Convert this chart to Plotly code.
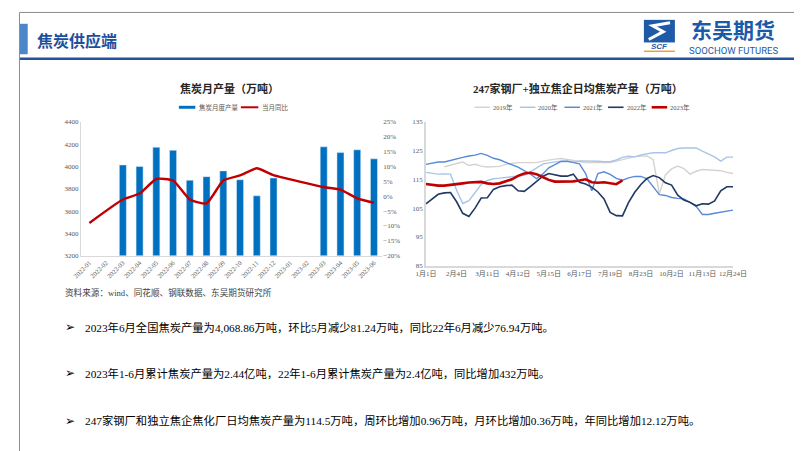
import plotly.graph_objects as go

W, H = 802, 451


def px(x):
    return x / W


def py(y):
    return 1 - y / H


# ---------------- data: left chart ----------------
months = ["2022-01", "2022-02", "2022-03", "2022-04", "2022-05", "2022-06",
          "2022-07", "2022-08", "2022-09", "2022-10", "2022-11", "2022-12",
          "2023-01", "2023-02", "2023-03", "2023-04", "2023-05", "2023-06"]
coke_output = [None, None, 4014, 4000, 4173, 4146, 3877, 3909, 3961, 3881,
               3737, 3897, None, None, 4177, 4125, 4150, 4069]
coke_yoy = [-9.0, None, -1.1, 0.9, 5.8, 5.3, -1.1, -2.4, 5.3, 7.0,
            9.4, 7.1, None, None, 3.1, 2.2, -0.7, -2.2]

# ---------------- data: right chart ----------------
week_idx = list(range(51))
week_tick_idx = [0, 5, 10, 15, 20, 25, 30, 35, 40, 45, 50]
week_tick_text = ["1月1日", "2月4日", "3月11日", "4月12日", "5月15日", "6月17日",
                  "7月19日", "8月23日", "10月2日", "11月13日", "12月24日"]

y2019 = [None, None, None, 119.3, 120.0, 120.5, 121.0, 119.8, 120.2, 119.6,
         119.3, 119.3, 119.5, 120.2, 120.6, 120.8, 120.8, 120.8, 120.8, 121.3,
         121.7, 122.0, 122.2, 121.9, 121.7, 121.2, 120.8, 120.8, 120.8, 120.8,
         120.8, 121.3, 121.8, 122.4, 122.9, 123.1, 123.1, 121.8, 110.0, 116.5,
         118.6, 119.6, 118.7, 116.8, 117.8, 118.4, 118.3, 118.0, 118.0, 117.4, 117.0]
y2020 = [117.4, 117.0, 116.8, 116.9, 116.8, 111.2, 106.6, 107.6, 110.4, 113.2,
         114.6, 115.2, 115.4, 115.7, 115.9, 116.2, 116.4, 117.6, 119.1, 120.3,
         120.7, 120.9, 121.3, 121.2, 120.9, 121.4, 121.4, 121.4, 121.3, 121.1,
         121.1, 121.7, 122.6, 123.0, 122.8, 123.5, 123.9, 124.2, 124.2, 124.2,
         125.0, 125.7, 125.9, 125.9, 125.9, 124.8, 123.9, 122.8, 121.3, 122.7, 122.7]
y2021 = [120.2, 120.7, 121.0, 121.0, 121.6, 122.1, 122.6, 123.1, 123.4, 124.0,
         123.3, 122.3, 121.8, 120.9, 120.0, 119.2, 118.0, 116.9, 115.2, 116.8,
         119.0, 120.2, 121.2, 121.3, 120.9, 120.4, 117.0, 111.0, 117.0, 117.6,
         116.7, 115.3, 114.7, 115.5, 116.0, 116.0, 115.2, 112.5, 109.7, 109.4,
         108.7, 108.4, 108.2, 107.0, 105.6, 102.8, 102.8, 103.2, 103.5, 104.0, 104.3]
y2022 = [106.5, 108.0, 109.8, 110.3, 110.4, 107.2, 103.2, 102.1, 105.0, 108.5,
         108.6, 111.5, 112.4, 112.8, 113.0, 111.0, 110.8, 112.5, 114.2, 116.0,
         117.0, 116.5, 116.1, 116.1, 116.8, 114.0, 113.4, 112.3, 110.6, 108.2,
         103.5, 102.4, 102.3, 107.0, 110.5, 113.2, 115.3, 116.3, 115.6, 113.8,
         113.0, 109.5, 107.8, 107.0, 105.8, 106.5, 106.4, 107.5, 111.0, 112.4, 112.4]
y2023 = [113.4, 113.0, 112.8, 112.8, 113.0, 113.3, 113.6, 113.9, 114.0, 114.1,
         113.6, 113.4, 113.6, 114.2, 115.0, 116.2, 117.0, 117.3, 116.8, 115.8,
         114.8, 114.2, 114.2, 114.3, 114.3, 114.6, 115.0, 114.0, 113.8, 114.0,
         113.6, 113.3, 114.6] + [None] * 18

series_names = ["2019年", "2020年", "2021年", "2022年", "2023年"]
series_vals = [y2019, y2020, y2021, y2022, y2023]
series_colors = ["#d6d3ce", "#a9c4e8", "#5a8ad6", "#1f3864", "#c00000"]
series_widths = [1.4, 1.4, 1.4, 1.6, 2.6]

TICKFONT = dict(family="Liberation Serif, Noto Sans CJK SC", size=7, color="#595959")
AXCOL = "#d9d9d9"

fig = go.Figure()

# left chart
fig.add_trace(go.Bar(x=months, y=coke_output, name="焦炭月度产量",
                     marker=dict(color="#0070c0"), xaxis="x", yaxis="y",
                     showlegend=False))
fig.add_trace(go.Scatter(x=months, y=coke_yoy, name="当月同比", mode="lines",
                         line=dict(color="#c00000", width=2.4, shape="spline", smoothing=0.5),
                         connectgaps=True, xaxis="x", yaxis="y2", showlegend=False))

# right chart
for name, vals, col, wd in zip(series_names, series_vals, series_colors, series_widths):
    fig.add_trace(go.Scatter(x=week_idx, y=vals, name=name, mode="lines",
                             line=dict(color=col, width=wd),
                             xaxis="x3", yaxis="y3", showlegend=False))

shapes = []
annotations = []

# frame
shapes.append(dict(type="rect", xref="paper", yref="paper", x0=0.0006, x1=0.9994,
                   y0=0.001, y1=0.999, line=dict(color="#8c8c8c", width=1)))
# left blue tab
shapes.append(dict(type="rect", xref="paper", yref="paper", x0=px(1), x1=px(9),
                   y0=py(43), y1=py(12), line=dict(width=0), fillcolor="#4a86c8"))
# header rule
shapes.append(dict(type="line", xref="paper", yref="paper", x0=px(1), x1=px(801),
                   y0=py(47.5), y1=py(47.5), line=dict(color="#24539b", width=2.5)))
# logo icon
shapes.append(dict(type="rect", xref="paper", yref="paper", x0=px(645), x1=px(677),
                   y0=py(31), y1=py(8), line=dict(width=0), fillcolor="#1f5aa6"))
shapes.append(dict(type="path", xref="paper", yref="paper",
                   path=f"M {px(672)} {py(11)} L {px(654)} {py(14)} L {px(665)} {py(20)} "
                        f"L {px(650)} {py(28)}",
                   line=dict(color="white", width=3)))
shapes.append(dict(type="line", xref="paper", yref="paper", x0=px(645), x1=px(677),
                   y0=py(40), y1=py(40), line=dict(color="#f0a030", width=1.5)))

annotations.append(dict(text="<b>焦炭供应端</b>", x=px(17), y=py(28), xref="paper", yref="paper",
                        xanchor="left", yanchor="middle", showarrow=False,
                        font=dict(family="Noto Sans CJK SC", size=16, color="#1c4f9c")))
annotations.append(dict(text="<b>东吴期货</b>", x=px(737), y=py(17), xref="paper", yref="paper",
                        xanchor="center", yanchor="middle", showarrow=False,
                        font=dict(family="Noto Sans CJK SC", size=21, color="#1b5aa8")))
annotations.append(dict(text="SOOCHOW FUTURES", x=px(738), y=py(39.5), xref="paper", yref="paper",
                        xanchor="center", yanchor="middle", showarrow=False,
                        font=dict(family="Liberation Sans Narrow, Roboto", size=9.5, color="#1b5aa8")))
annotations.append(dict(text="<b><i>SCF</i></b>", x=px(661), y=py(35.5), xref="paper", yref="paper",
                        xanchor="center", yanchor="middle", showarrow=False,
                        font=dict(family="Liberation Sans", size=8, color="#1f5aa6")))

# chart titles
annotations.append(dict(text="<b>焦炭月产量（万吨）</b>", x=px(217), y=py(78), xref="paper", yref="paper",
                        xanchor="center", yanchor="middle", showarrow=False,
                        font=dict(family="Liberation Serif, Noto Sans CJK SC", size=11, color="#262626")))
annotations.append(dict(text="<b>247家钢厂+独立焦企日均焦炭产量（万吨）</b>", x=px(577), y=py(78),
                        xref="paper", yref="paper", xanchor="center", yanchor="middle", showarrow=False,
                        font=dict(family="Liberation Serif, Noto Sans CJK SC", size=11, color="#262626")))

# left legend
LEGFONT = dict(family="Liberation Serif, Noto Sans CJK SC", size=6.5, color="#595959")
shapes.append(dict(type="rect", xref="paper", yref="paper", x0=px(165), x1=px(182),
                   y0=py(98.5), y1=py(95.5), line=dict(width=0), fillcolor="#0070c0"))
annotations.append(dict(text="焦炭月度产量", x=px(184), y=py(97), xref="paper", yref="paper",
                        xanchor="left", yanchor="middle", showarrow=False, font=LEGFONT))
shapes.append(dict(type="line", xref="paper", yref="paper", x0=px(229), x1=px(247),
                   y0=py(97), y1=py(97), line=dict(color="#c00000", width=2)))
annotations.append(dict(text="当月同比", x=px(249), y=py(97), xref="paper", yref="paper",
                        xanchor="left", yanchor="middle", showarrow=False, font=LEGFONT))

# right legend
leg_x = [470, 517, 563, 608, 653]
for lx, name, col, wd in zip(leg_x, series_names, series_colors, series_widths):
    shapes.append(dict(type="line", xref="paper", yref="paper", x0=px(lx), x1=px(lx + 16),
                       y0=py(97), y1=py(97), line=dict(color=col, width=max(wd, 1.5))))
    annotations.append(dict(text=name, x=px(lx + 17), y=py(97), xref="paper", yref="paper",
                            xanchor="left", yanchor="middle", showarrow=False, font=LEGFONT))

# source + bullets
annotations.append(dict(text="资料来源：wind、同花顺、钢联数据、东吴期货研究所", x=px(45), y=py(286),
                        xref="paper", yref="paper", xanchor="left", yanchor="middle", showarrow=False,
                        font=dict(family="Liberation Serif, Noto Sans CJK SC", size=8.6, color="#404040")))
bullets = [
    "2023年6月全国焦炭产量为4,068.86万吨，环比5月减少81.24万吨，同比22年6月减少76.94万吨。",
    "2023年1-6月累计焦炭产量为2.44亿吨，22年1-6月累计焦炭产量为2.4亿吨，同比增加432万吨。",
    "247家钢厂和独立焦企焦化厂日均焦炭产量为114.5万吨，周环比增加0.96万吨，月环比增加0.36万吨，年同比增加12.12万吨。",
]
bullet_y = [321, 368, 416]
for by, txt in zip(bullet_y, bullets):
    annotations.append(dict(text="➢", x=px(45), y=py(by), xref="paper", yref="paper",
                            xanchor="left", yanchor="middle", showarrow=False,
                            font=dict(family="DejaVu Sans", size=12, color="#000000")))
    annotations.append(dict(text=txt, x=px(66), y=py(by), xref="paper", yref="paper",
                            xanchor="left", yanchor="middle", showarrow=False,
                            font=dict(family="Liberation Serif, Noto Sans CJK SC", size=11.3,
                                      color="#000000")))

fig.update_layout(
    width=W, height=H,
    margin=dict(l=0, r=0, t=0, b=0),
    paper_bgcolor="white", plot_bgcolor="white",
    showlegend=False,
    bargap=0.58,
    xaxis=dict(domain=[px(64), px(375)], anchor="y", type="category",
               tickangle=-45, tickfont=dict(family="Liberation Serif", size=6.5, color="#595959"),
               showline=True, linecolor=AXCOL, linewidth=1, ticks="", showgrid=False),
    yaxis=dict(domain=[py(248), py(112)], anchor="x", range=[3200, 4400], dtick=200,
               showgrid=False, zeroline=False, showline=True, linecolor=AXCOL, linewidth=1,
               ticks="", tickfont=TICKFONT),
    yaxis2=dict(overlaying="y", side="right", anchor="x", range=[-20, 25], dtick=5,
                ticksuffix="%", showgrid=False, zeroline=False, showline=False,
                ticks="", tickfont=TICKFONT),
    xaxis3=dict(domain=[px(420), px(737)], anchor="y3", range=[0, 50],
                tickvals=week_tick_idx, ticktext=week_tick_text, tickangle=0,
                tickfont=TICKFONT, showline=True, linecolor=AXCOL, linewidth=1.5,
                ticks="", showgrid=False, zeroline=False),
    yaxis3=dict(domain=[py(258.3), py(111.7)], anchor="x3", range=[85, 135], dtick=10,
                tick0=85, showgrid=False, zeroline=False, showline=True, linecolor=AXCOL,
                linewidth=1.5, ticks="", tickfont=TICKFONT),
    shapes=shapes,
    annotations=annotations,
)

fig.write_html("out.html")
